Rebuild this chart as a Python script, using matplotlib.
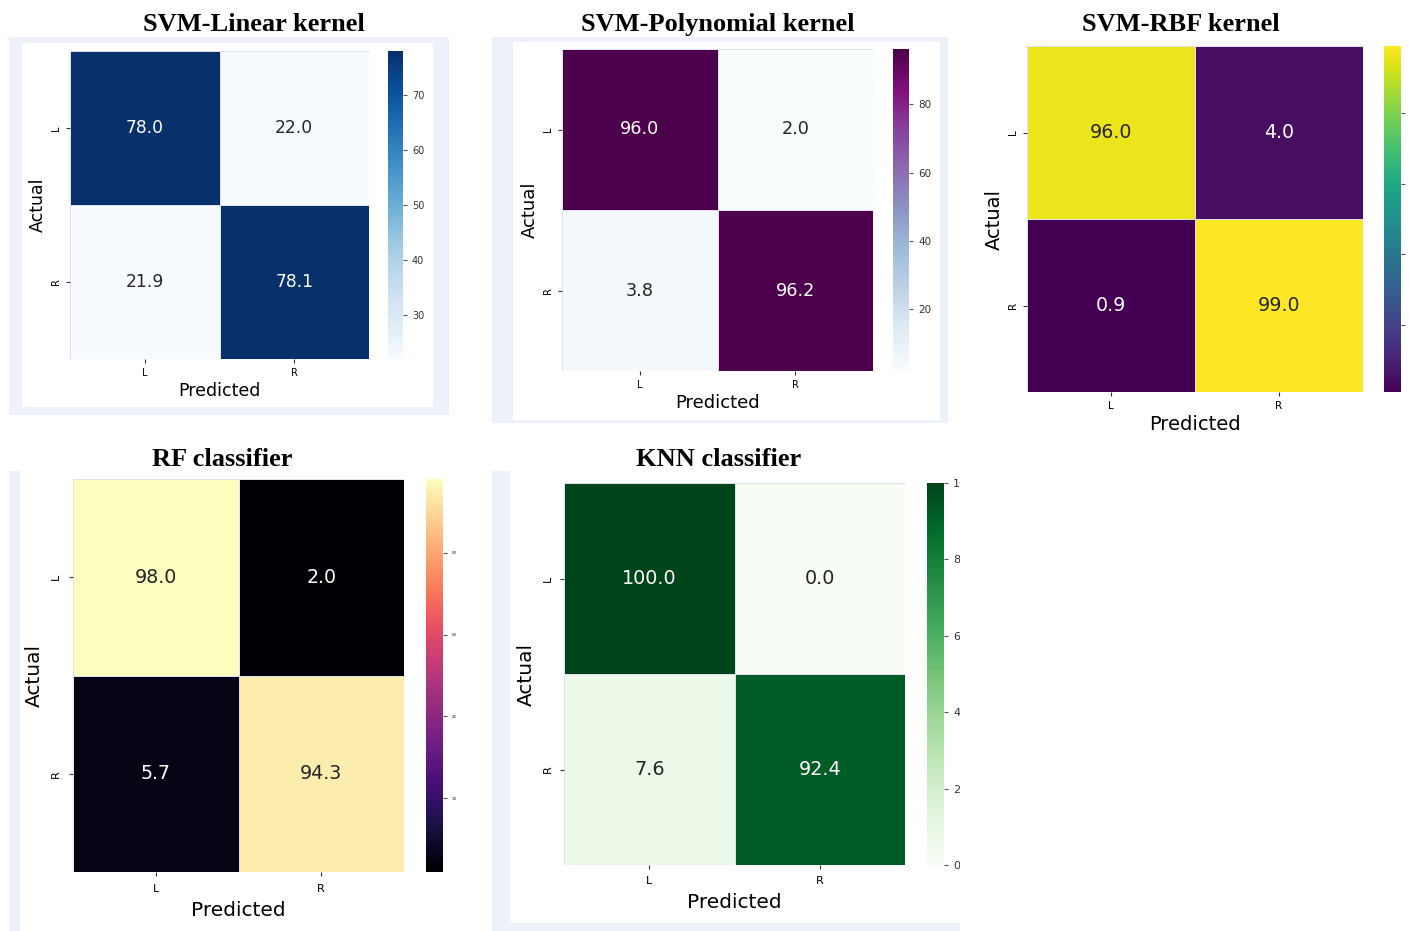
import matplotlib
matplotlib.use('Agg')
import matplotlib.pyplot as plt
import seaborn as sns
from matplotlib.patches import Rectangle

# confusion matrices (percent), rows = actual, cols = predicted
labels = ['L', 'R']
titles = ['SVM-Linear kernel', 'SVM-Polynomial kernel', 'SVM-RBF kernel',
          'RF classifier', 'KNN classifier']
cm_linear = [[78.0, 22.0], [21.9, 78.1]]
cm_poly = [[96.0, 2.0], [3.8, 96.2]]
cm_rbf = [[96.0, 4.0], [0.9, 99.0]]
cm_rf = [[98.0, 2.0], [5.7, 94.3]]
cm_knn = [[100.0, 0.0], [7.6, 92.4]]
cmaps = ['Blues', 'BuPu', 'viridis', 'magma', 'Greens']
cbar_ticks = [[30, 40, 50, 60, 70], [20, 40, 60, 80], [20, 40, 60, 80],
              [20, 40, 60, 80], [0, 20, 40, 60, 80, 100]]

W, H = 1409, 931
fig = plt.figure(figsize=(W / 100, H / 100), dpi=100)
fig.patch.set_facecolor('white')


def box(x0, y0, x1, y1):
    return [x0 / W, 1 - y1 / H, (x1 - x0) / W, (y1 - y0) / H]


def frame(x0, y0, x1, y1, color, z=-2):
    b = box(x0, y0, x1, y1)
    fig.add_artist(Rectangle((b[0], b[1]), b[2], b[3], transform=fig.transFigure,
                             facecolor=color, edgecolor='none', zorder=z))


# light screenshot frames around some panels
edge = '#edf1f9'
frame(9, 37, 449, 415, edge)
frame(22, 43, 433, 407, 'white', -1)
frame(492, 37, 948, 423, edge)
frame(513, 42, 940, 420, 'white', -1)
frame(9, 471, 20, 931, edge)
frame(492, 471, 960, 931, edge)
frame(510, 471, 960, 923, 'white', -1)

# heatmap box, colorbar box, font sizes (annot, ticks, axis labels, cbar),
# tick pad, label pad, title x, title baseline y
layout = [
    ((70, 51, 369, 359), (388, 51, 403, 359), (12.3, 7, 12.5, 7), 3.5, 3, 254, 31),
    ((562, 49, 873, 371), (893, 49, 909, 371), (12.7, 7, 13, 7.5), 3.5, 3, 718, 31),
    ((1027, 46, 1363, 392), (1384, 46, 1401, 392), (13.7, 7.5, 14, 7), 3.5, 3, 1181, 31),
    ((73, 479, 404, 872), (426, 479, 443, 872), (13.7, 8, 14.5, 3), 6, 5, 222, 466),
    ((564, 483, 905, 865), (927, 483, 944, 865), (13.8, 8, 14.5, 8), 5, 5, 719, 466),
]
mats = [cm_linear, cm_poly, cm_rbf, cm_rf, cm_knn]

for i, cm in enumerate(mats):
    hb, cb, fs, tpad, lpad, tx, ty = layout[i]
    ax = fig.add_axes(box(*hb))
    cax = fig.add_axes(box(*cb))
    sns.heatmap(cm, annot=True, fmt='.1f', cmap=cmaps[i], ax=ax, cbar_ax=cax,
                xticklabels=labels, yticklabels=labels,
                linewidths=0.4, linecolor='#dde3ee',
                cbar_kws={'ticks': cbar_ticks[i]},
                annot_kws={'size': fs[0]})
    ax.tick_params(labelsize=fs[1], length=3, pad=tpad, color='#333333')
    plt.setp(ax.get_yticklabels(), rotation=90, va='center')
    ax.set_xlabel('Predicted', fontsize=fs[2], labelpad=lpad)
    ax.set_ylabel('Actual', fontsize=fs[2], labelpad=lpad)
    cax.tick_params(labelsize=fs[3], length=3, color='#555555', labelcolor='#333333')
    if i == 2:
        # labels fall outside the screenshot, only the tick marks remain
        cax.set_yticklabels([])
    fig.text(tx / W, 1 - ty / H, titles[i], ha='center', va='baseline',
             family='Liberation Serif', weight='bold', fontsize=19)

# knn colourbar labels are cut off by the screenshot edge
cax.set_yticklabels(['0', '20', '40', '60', '80', '100'])
frame(960, 460, 1409, 931, 'white', 10)

fig.savefig('out.png', dpi=100)
